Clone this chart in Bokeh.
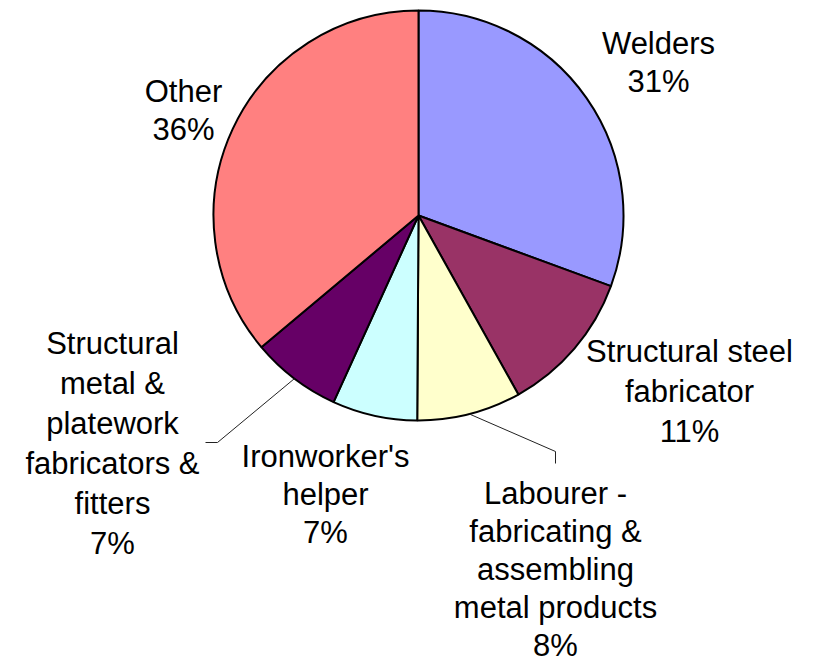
import math
from bokeh.plotting import figure
from bokeh.models import Range1d, ColumnDataSource
from bokeh.core.properties import value
from bokeh.embed import file_html
from bokeh.resources import INLINE

# ---- data ----
categories = ["Welders", "Structural steel\nfabricator",
              "Labourer -\nfabricating &\nassembling\nmetal products",
              "Ironworker's\nhelper",
              "Structural\nmetal &\nplatework\nfabricators &\nfitters",
              "Other"]
shares = [30.6, 11.3, 8.2, 6.7, 7.1, 36.1]
colors = ["#9999FF", "#993366", "#FFFFCC", "#CCFFFF", "#660066", "#FF8080"]

# ---- layout (pixel-like coordinates, y measured downward from window top) ----
W, H = 814, 668
cx, cy_pix, R = 418, 215, 205
label_anchor = [(658, 43), (689, 351), (555, 493), (325, 456), (112, 343), (183, 91)]
label_step = [38, 40, 38, 38, 40, 38]

def Y(py):
    return H - py

p = figure(width=W, height=H, x_range=Range1d(0, W), y_range=Range1d(0, H),
           output_backend="svg", toolbar_location=None, min_border=0)
p.axis.visible = False
p.grid.visible = False
p.outline_line_color = None
p.background_fill_color = "white"
p.border_fill_color = "white"

total = sum(shares)
starts, ends = [], []
cum = 0.0
for s in shares:
    starts.append(math.pi / 2 - 2 * math.pi * cum / total)
    cum += s
    ends.append(math.pi / 2 - 2 * math.pi * cum / total)

src = ColumnDataSource(dict(start=starts, end=ends, color=colors,
                            x=[cx] * len(shares), y=[Y(cy_pix)] * len(shares)))
p.wedge(x="x", y="y", radius=R, start_angle="start", end_angle="end",
        direction="clock", fill_color="color", line_color="black", line_width=2,
        source=src)

# leader lines (to slice mid-points on the rim)
def rim_point(i, frac=1.0):
    a = (starts[i] + ends[i]) / 2
    return cx + R * frac * math.cos(a), Y(cy_pix) + R * frac * math.sin(a)

lx, ly = rim_point(2)
p.line([555, 555, lx], [Y(463), Y(451), ly], line_color="#222222", line_width=1)
sx, sy = rim_point(4)
p.line([205, 217, sx], [Y(442), Y(442), sy], line_color="#222222", line_width=1)

# labels
tx, ty, tt = [], [], []
for i, cat in enumerate(categories):
    lines = cat.split("\n") + [f"{round(shares[i] / total * 100)}%"]
    ax, ay = label_anchor[i]
    for k, ln in enumerate(lines):
        tx.append(ax)
        ty.append(Y(ay + k * label_step[i]))
        tt.append(ln)

p.text(x=tx, y=ty, text=tt, text_font=value("Liberation Sans"), text_font_size="31px",
       text_align="center", text_baseline="alphabetic", text_color="black")

open("out.html", "w").write(file_html(p, INLINE))
